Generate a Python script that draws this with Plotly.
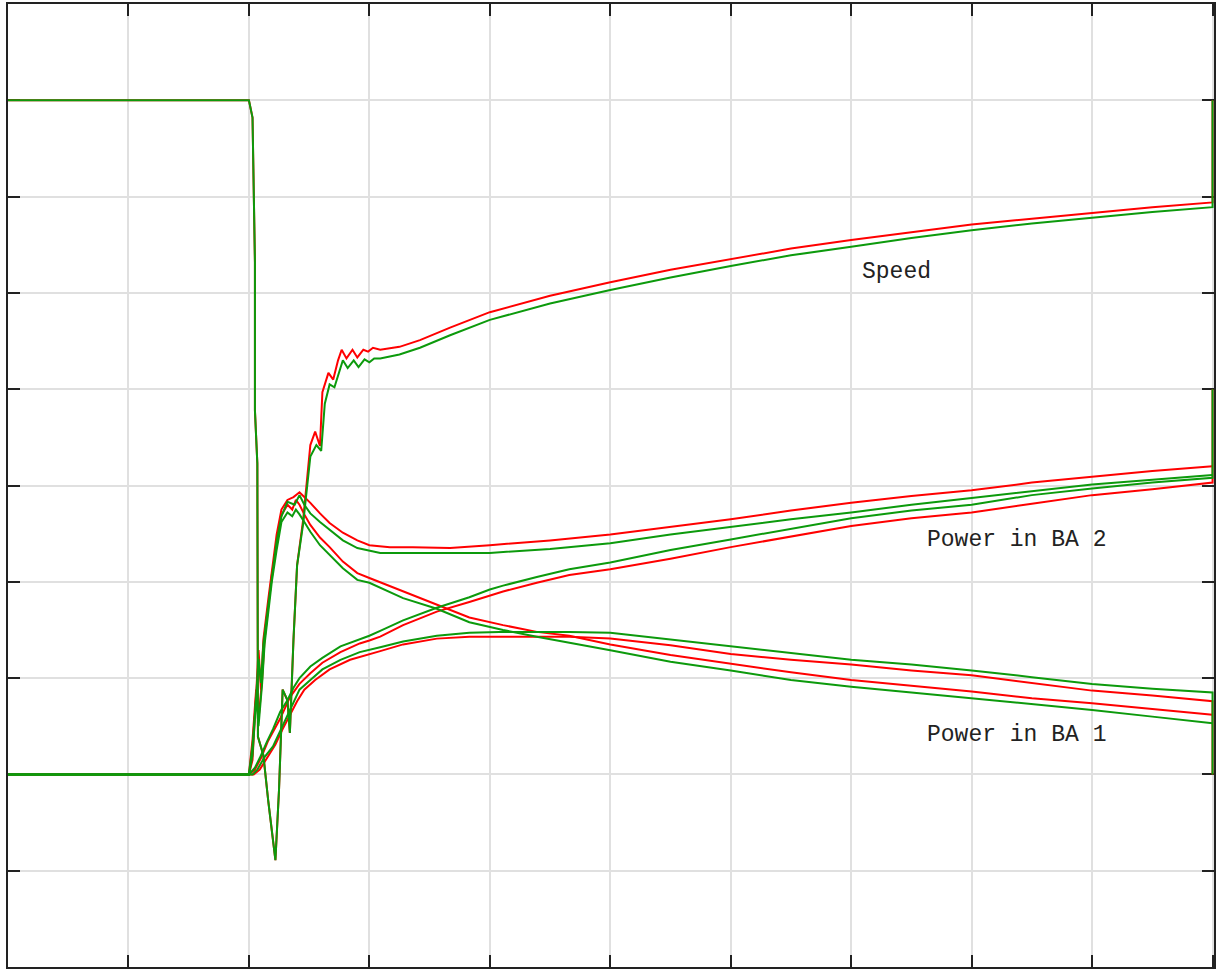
import plotly.graph_objects as go

# ---------------- data ----------------
# Speed
speed_red_x = [0, 2.0, 2.03, 2.04, 2.05, 2.05, 2.07, 2.075, 2.12, 2.16, 2.22, 2.25, 2.28, 2.32, 2.34, 2.37,
               2.40, 2.45, 2.51, 2.55, 2.59, 2.61, 2.66, 2.70, 2.74, 2.77, 2.81, 2.86, 2.90, 2.95, 2.99,
               3.03, 3.09, 3.25, 3.42, 3.67, 4.0, 4.5, 5, 5.5, 6, 6.5, 7, 7.5, 8, 8.5, 9, 9.5, 10, 10]
speed_red_y = [9.0, 9.0, 8.82, 7.76, 7.32, 5.78, 5.23, 2.39, 2.2, 1.73, 1.11, 1.84, 2.88, 2.77, 2.43, 3.40,
               4.17, 4.64, 5.42, 5.56, 5.41, 5.97, 6.17, 6.10, 6.30, 6.41, 6.32, 6.41, 6.33, 6.41, 6.39,
               6.43, 6.41, 6.44, 6.51, 6.64, 6.80, 6.97, 7.11, 7.24, 7.35, 7.46, 7.55, 7.63, 7.71, 7.77,
               7.83, 7.89, 7.94, 9.0]
speed_green_x = [0, 2.0, 2.03, 2.04, 2.05, 2.05, 2.07, 2.075, 2.12, 2.16, 2.22, 2.25, 2.28, 2.32, 2.34, 2.37,
                 2.40, 2.45, 2.51, 2.56, 2.60, 2.63, 2.67, 2.71, 2.75, 2.78, 2.82, 2.87, 2.91, 2.96, 3.0,
                 3.04, 3.09, 3.25, 3.42, 3.67, 4.0, 4.5, 5, 5.5, 6, 6.5, 7, 7.5, 8, 8.5, 9, 9.5, 10, 10]
speed_green_y = [9.0, 9.0, 8.82, 7.76, 7.32, 5.78, 5.23, 2.39, 2.2, 1.73, 1.11, 1.84, 2.88, 2.77, 2.43, 3.40,
                 4.17, 4.60, 5.30, 5.42, 5.36, 5.85, 6.05, 6.02, 6.18, 6.30, 6.22, 6.30, 6.23, 6.31, 6.28,
                 6.32, 6.32, 6.36, 6.43, 6.56, 6.72, 6.89, 7.03, 7.16, 7.28, 7.39, 7.48, 7.57, 7.65, 7.72,
                 7.78, 7.84, 7.89, 9.0]

# Power in BA 2 (peak, plateau, then rise)
ba2a_red_x = [0, 2.0, 2.03, 2.06, 2.08, 2.10, 2.12, 2.16, 2.19, 2.23, 2.27, 2.32, 2.37, 2.42, 2.46, 2.51,
              2.59, 2.67, 2.78, 2.90, 3.0, 3.17, 3.36, 3.67, 4.0, 4.5, 5, 5.5, 6, 6.5, 7, 7.5, 8, 8.5, 9, 9.5, 10]
ba2a_red_y = [2.0, 2.0, 2.15, 2.77, 3.29, 2.88, 3.40, 3.81, 4.12, 4.49, 4.75, 4.85, 4.88, 4.93, 4.88, 4.82,
              4.71, 4.61, 4.51, 4.43, 4.38, 4.36, 4.36, 4.35, 4.38, 4.43, 4.49, 4.57, 4.65, 4.74, 4.82, 4.89,
              4.95, 5.03, 5.09, 5.15, 5.20]
ba2a_green_x = [0, 2.0, 2.03, 2.06, 2.08, 2.10, 2.12, 2.16, 2.19, 2.23, 2.27, 2.32, 2.38, 2.42, 2.46, 2.51,
                2.59, 2.67, 2.78, 2.90, 3.09, 3.5, 4.0, 4.5, 5, 5.5, 6, 6.5, 7, 7.5, 8, 8.5, 9, 9.5, 10]
ba2a_green_y = [2.0, 2.0, 2.2, 2.85, 3.2, 2.95, 3.35, 3.75, 4.05, 4.42, 4.68, 4.83, 4.80, 4.90, 4.80, 4.71,
                4.62, 4.54, 4.43, 4.35, 4.30, 4.30, 4.30, 4.34, 4.40, 4.49, 4.57, 4.65, 4.72, 4.80, 4.87,
                4.94, 5.01, 5.06, 5.11]

# Power in BA 1 (peak, then decay)
ba1b_red_x = [0, 2.0, 2.03, 2.06, 2.08, 2.11, 2.13, 2.16, 2.19, 2.23, 2.27, 2.32, 2.36, 2.39, 2.42, 2.46,
              2.51, 2.59, 2.67, 2.78, 2.90, 3.0, 3.28, 3.56, 3.83, 4.11, 4.39, 4.66, 5, 5.5, 6, 6.5, 7, 7.5,
              8, 8.5, 9, 9.5, 10]
ba1b_red_y = [2.0, 2.0, 2.36, 2.88, 2.57, 2.99, 3.40, 3.71, 4.07, 4.38, 4.69, 4.80, 4.75, 4.85, 4.80, 4.70,
              4.59, 4.46, 4.36, 4.21, 4.09, 4.04, 3.90, 3.76, 3.63, 3.55, 3.48, 3.44, 3.35, 3.24, 3.15, 3.06,
              2.98, 2.92, 2.86, 2.79, 2.74, 2.68, 2.62]
ba1b_green_x = [0, 2.0, 2.03, 2.06, 2.08, 2.11, 2.13, 2.16, 2.19, 2.23, 2.27, 2.32, 2.36, 2.39, 2.42, 2.46,
                2.51, 2.59, 2.67, 2.78, 2.90, 3.0, 3.28, 3.56, 3.83, 4.11, 4.39, 4.66, 5, 5.5, 6, 6.5, 7,
                7.5, 8, 8.5, 9, 9.5, 10]
ba1b_green_y = [2.0, 2.0, 2.3, 2.8, 2.5, 2.95, 3.35, 3.66, 4.0, 4.33, 4.62, 4.72, 4.68, 4.75, 4.70, 4.62,
                4.52, 4.38, 4.28, 4.14, 4.02, 3.99, 3.83, 3.72, 3.58, 3.50, 3.43, 3.37, 3.29, 3.17, 3.08,
                2.98, 2.91, 2.85, 2.79, 2.73, 2.67, 2.60, 2.53]

# Power in BA 2 (smooth rise)
ba2c_green_x = [0, 2.0, 2.05, 2.09, 2.15, 2.20, 2.26, 2.32, 2.37, 2.42, 2.51, 2.61, 2.76, 2.92, 3.0, 3.09,
                3.28, 3.56, 3.83, 4.0, 4.11, 4.39, 4.66, 5, 5.5, 6, 6.5, 7, 7.5, 8, 8.5, 9, 9.5, 10, 10]
ba2c_green_y = [2.0, 2.0, 2.07, 2.17, 2.34, 2.47, 2.65, 2.77, 2.90, 3.00, 3.12, 3.21, 3.33, 3.40, 3.44, 3.49,
                3.60, 3.73, 3.84, 3.92, 3.96, 4.05, 4.13, 4.20, 4.33, 4.44, 4.55, 4.66, 4.74, 4.80, 4.90,
                4.97, 5.03, 5.08, 6.0]
ba2c_red_x = [0, 2.0, 2.05, 2.10, 2.16, 2.26, 2.34, 2.42, 2.51, 2.61, 2.76, 2.92, 3.0, 3.09, 3.28, 3.56,
              3.83, 4.0, 4.11, 4.39, 4.66, 5, 5.5, 6, 6.5, 7, 7.5, 8, 8.5, 9, 9.5, 10, 10]
ba2c_red_y = [2.0, 2.0, 2.05, 2.17, 2.35, 2.58, 2.80, 2.94, 3.05, 3.16, 3.27, 3.36, 3.39, 3.43, 3.55, 3.69,
              3.79, 3.86, 3.90, 3.99, 4.07, 4.13, 4.24, 4.36, 4.47, 4.58, 4.66, 4.72, 4.81, 4.90, 4.96,
              5.03, 6.0]

# Power in BA 1 (smooth rise, then slow fall)
ba1d_green_x = [0, 2.0, 2.03, 2.07, 2.13, 2.20, 2.26, 2.32, 2.37, 2.42, 2.51, 2.61, 2.76, 2.92, 3.09, 3.28,
                3.56, 3.83, 4.08, 4.39, 4.66, 5, 5.5, 6, 6.5, 7, 7.5, 8, 8.5, 9, 9.5, 10, 10]
ba1d_green_y = [2.0, 2.0, 2.0, 2.05, 2.18, 2.29, 2.45, 2.60, 2.74, 2.88, 2.98, 3.09, 3.19, 3.27, 3.32, 3.38,
                3.44, 3.47, 3.48, 3.48, 3.48, 3.47, 3.40, 3.33, 3.26, 3.19, 3.14, 3.08, 3.01, 2.94, 2.89,
                2.85, 2.0]
ba1d_red_x = [0, 2.0, 2.04, 2.09, 2.16, 2.22, 2.28, 2.34, 2.40, 2.46, 2.55, 2.67, 2.84, 3.09, 3.28, 3.56,
              3.83, 4.08, 4.39, 4.66, 5, 5.5, 6, 6.5, 7, 7.5, 8, 8.5, 9, 9.5, 10, 10]
ba1d_red_y = [2.0, 2.0, 2.0, 2.05, 2.19, 2.31, 2.47, 2.62, 2.76, 2.88, 2.98, 3.09, 3.19, 3.28, 3.35, 3.41,
              3.43, 3.43, 3.43, 3.43, 3.41, 3.34, 3.25, 3.19, 3.14, 3.08, 3.03, 2.95, 2.87, 2.82, 2.76, 2.0]

labels = ["Speed", "Power in BA 2", "Power in BA 1"]
label_x = [7.38, 8.37, 8.37]
label_y = [7.22, 4.43, 2.41]

RED = "#ff0000"
GREEN = "#0c9a0c"

fig = go.Figure()

red_series = [(speed_red_x, speed_red_y), (ba2a_red_x, ba2a_red_y), (ba1b_red_x, ba1b_red_y),
              (ba2c_red_x, ba2c_red_y), (ba1d_red_x, ba1d_red_y)]
green_series = [(speed_green_x, speed_green_y), (ba2a_green_x, ba2a_green_y), (ba1b_green_x, ba1b_green_y),
                (ba2c_green_x, ba2c_green_y), (ba1d_green_x, ba1d_green_y)]

for xs, ys in red_series:
    fig.add_trace(go.Scatter(x=xs, y=ys, mode="lines", line=dict(color=RED, width=2),
                             showlegend=False, hoverinfo="skip"))
for xs, ys in green_series:
    fig.add_trace(go.Scatter(x=xs, y=ys, mode="lines", line=dict(color=GREEN, width=2),
                             showlegend=False, hoverinfo="skip"))

for t, x, y in zip(labels, label_x, label_y):
    fig.add_annotation(x=x, y=y, text=t, showarrow=False, xanchor="center", yanchor="middle",
                       font=dict(family="Courier New, Liberation Mono, monospace", size=23, color="#222222"))

axis_common = dict(
    showgrid=True, gridcolor="#e0e0e0", gridwidth=2,
    showline=True, linecolor="#222222", linewidth=2, mirror="ticks",
    ticks="inside", ticklen=12, tickwidth=2, tickcolor="#222222",
    showticklabels=False, zeroline=False, dtick=1, layer="below traces",
)

fig.update_layout(
    width=1220, height=970,
    margin=dict(l=8, r=6, t=4, b=3),
    paper_bgcolor="white", plot_bgcolor="white",
    xaxis=dict(range=[0, 10.012], tick0=0, **axis_common),
    yaxis=dict(range=[0, 10], tick0=0, **axis_common),
)

fig.write_html("out.html",
               config={"displayModeBar": False},
               post_script="document.body.style.margin='0';document.body.style.overflow='hidden';")
